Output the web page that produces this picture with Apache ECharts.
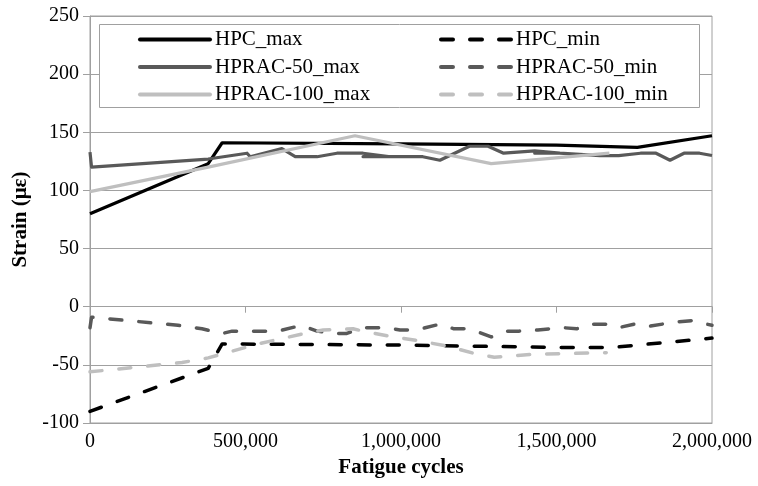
<!DOCTYPE html>
<html>
<head>
<meta charset="utf-8">
<script src="https://cdn.jsdelivr.net/npm/echarts@6/dist/echarts.min.js"></script>
<style>
html,body{margin:0;padding:0;background:#fff;}
#chart{width:758px;height:486px;}
</style>
</head>
<body>
<div id="chart"></div>
<script>
// ---- data ----
var seriesNames = ['HPC_max', 'HPC_min', 'HPRAC-50_max', 'HPRAC-50_min', 'HPRAC-100_max', 'HPRAC-100_min'];

var hpcMaxX = [0, 380000, 425000, 1000000, 1500000, 1760000, 2000000];
var hpcMaxY = [80, 123, 141, 140, 139, 137, 147];

var hpcMinX = [0, 380000, 425000, 1000000, 1500000, 1680000, 2000000];
var hpcMinY = [-90, -53, -32, -33, -35, -35, -27];

var hprac50MaxX = [0, 5000, 380000, 505000, 515000, 617000, 660000, 730000, 794000, 878000, 960000, 878000, 960000, 1070000, 1125000, 1220000, 1280000, 1330000, 1430000, 1510000, 1430000, 1510000, 1640000, 1700000, 1770000, 1820000, 1865000, 1910000, 1960000, 2000000];
var hprac50MaxY = [133, 120, 127, 132, 129, 136, 129, 129, 132, 132, 129, 129, 129, 129, 126, 138, 138, 132, 134, 132, 132, 132, 130, 130, 132, 132, 126, 132, 132, 130];

var hprac50MinX = [0, 5000, 283000, 360000, 425000, 457000, 605000, 680000, 730000, 794000, 826000, 878000, 950000, 997000, 1050000, 1125000, 1170000, 1210000, 1250000, 1290000, 1340000, 1380000, 1440000, 1520000, 1565000, 1610000, 1660000, 1700000, 1750000, 1790000, 1890000, 1935000, 2000000];
var hprac50MinY = [-18, -9, -16, -19, -23, -21, -21, -16, -21, -23, -23, -18, -18, -20, -20, -15, -19, -19, -22, -26, -21, -21, -20, -18, -19, -15, -15, -18, -15, -17, -13, -12, -16];

var hprac100MaxX = [0, 380000, 852000, 1290000, 1670000];
var hprac100MaxY = [99, 120, 147, 123, 132];

var hprac100MinX = [0, 296000, 380000, 540000, 690000, 750000, 846000, 878000, 955000, 1050000, 1150000, 1240000, 1300000, 1420000, 1660000];
var hprac100MinY = [-56, -48, -44, -32, -23, -20, -19, -21, -25, -29, -34, -40.5, -43.5, -41, -39.5];

var xTicks = [0, 500000, 1000000, 1500000, 2000000];
var yTicks = [-100, -50, 0, 50, 100, 150, 200, 250];

function pairs(xs, ys) { return xs.map(function (x, i) { return [x, ys[i]]; }); }

var colors = ['#000000', '#000000', '#595959', '#595959', '#bfbfbf', '#bfbfbf'];
var dataSets = [
  pairs(hpcMaxX, hpcMaxY), pairs(hpcMinX, hpcMinY),
  pairs(hprac50MaxX, hprac50MaxY), pairs(hprac50MinX, hprac50MinY),
  pairs(hprac100MaxX, hprac100MaxY), pairs(hprac100MinX, hprac100MinY)
];

var FONT = '"Liberation Serif", "Times New Roman", serif';
var gridColor = '#a0a0a0';

var series = seriesNames.map(function (name, i) {
  var dashed = name.indexOf('min') >= 0;
  return {
    name: name,
    type: 'line',
    xAxisIndex: 0,
    yAxisIndex: 0,
    data: dataSets[i],
    symbol: 'none',
    showSymbol: false,
    silent: true,
    animation: false,
    lineStyle: {
      color: colors[i],
      width: dashed ? 3.5 : 3.2,
      type: dashed ? [12, 17] : 'solid',
      cap: dashed ? 'round' : 'butt',
      join: 'round'
    },
    itemStyle: { color: colors[i] }
  };
});

var legendCommon = {
  orient: 'vertical', top: 29, padding: 0, z: 5,
  itemWidth: 70, itemHeight: 14, itemGap: 6.5,
  itemStyle: { opacity: 0 },
  lineStyle: { width: 4, cap: 'round' },
  textStyle: { fontFamily: FONT, fontSize: 21, color: '#000', lineHeight: 21 },
  selectedMode: false
};

var chart = echarts.init(document.getElementById('chart'), null, { renderer: 'canvas' });
chart.setOption({
  animation: false,
  backgroundColor: '#ffffff',
  textStyle: { fontFamily: FONT },
  grid: {
    left: 90, right: 46, top: 16, bottom: 63,
    show: true, borderColor: gridColor, borderWidth: 1, backgroundColor: 'transparent'
  },
  graphic: [{
    type: 'rect', left: 99, top: 24, z: 3,
    shape: { width: 600, height: 83 },
    style: { fill: '#ffffff', stroke: gridColor, lineWidth: 1 }
  }],
  legend: [
    Object.assign({}, legendCommon, { data: [seriesNames[0], seriesNames[2], seriesNames[4]], left: 138 }),
    Object.assign({}, legendCommon, { data: [seriesNames[1], seriesNames[3], seriesNames[5]], left: 439 })
  ],
  xAxis: [{
    type: 'value', min: xTicks[0], max: xTicks[xTicks.length - 1], interval: xTicks[1] - xTicks[0],
    position: 'bottom',
    axisLine: { onZero: false, lineStyle: { color: gridColor } },
    axisTick: { show: false },
    splitLine: { show: false },
    axisLabel: {
      margin: 9, fontSize: 20, color: '#000', fontFamily: FONT,
      formatter: function (v) { return v.toLocaleString('en-US'); }
    },
    name: 'Fatigue cycles', nameLocation: 'middle', nameGap: 31,
    nameTextStyle: { fontSize: 21, fontWeight: 'bold', color: '#000', fontFamily: FONT, verticalAlign: 'top' }
  }, {
    type: 'value', min: xTicks[0], max: xTicks[xTicks.length - 1], interval: xTicks[1] - xTicks[0],
    position: 'top',
    axisLine: { show: true, onZero: true, lineStyle: { color: gridColor } },
    axisTick: { show: true, inside: true, length: 6, lineStyle: { color: gridColor } },
    axisLabel: { show: false },
    splitLine: { show: false }
  }],
  yAxis: [{
    type: 'value', min: yTicks[0], max: yTicks[yTicks.length - 1], interval: yTicks[1] - yTicks[0],
    axisLine: { show: true, onZero: false, lineStyle: { color: gridColor } },
    axisTick: { show: true, length: 7, lineStyle: { color: gridColor } },
    splitLine: { show: true, lineStyle: { color: gridColor, width: 1 } },
    axisLabel: { margin: 11, fontSize: 20, color: '#000', fontFamily: FONT },
    name: 'Strain (με)', nameLocation: 'middle', nameGap: 58, nameRotate: 90,
    nameTextStyle: { fontSize: 21, fontWeight: 'bold', color: '#000', fontFamily: FONT }
  }],
  series: series
});
</script>
</body>
</html>
